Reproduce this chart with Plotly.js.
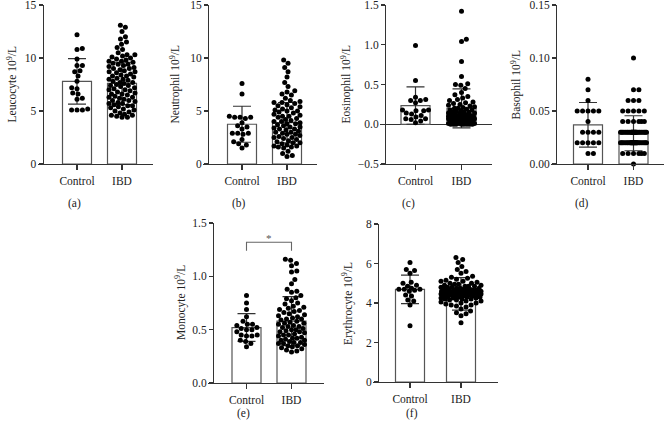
<!DOCTYPE html>
<html><head><meta charset="utf-8">
<script src="https://cdn.plot.ly/plotly-3.0.1.min.js"></script>
<style>html,body{margin:0;padding:0;background:#fff}#chart{width:664px;height:426px}</style>
</head><body><div id="chart"></div>
<script>
// ---------- DATA ----------
const groups = ["Control", "IBD"];
const panelLabels = ["(a)", "(b)", "(c)", "(d)", "(e)", "(f)"];
const yTitles = ["Leucocyte 10<sup>9</sup>/L", "Neutrophil 10<sup>9</sup>/L", "Eosinophil 10<sup>9</sup>/L",
                 "Basophil 10<sup>9</sup>/L", "Monocyte 10<sup>9</sup>/L", "Erythrocyte 10<sup>9</sup>/L"];
const yTickVals = [[0,5,10,15],[0,5,10,15],[-0.5,0,0.5,1,1.5],[0,0.05,0.1,0.15],[0,0.5,1,1.5],[0,2,4,6,8]];

const leucocyteMean = [7.8, 7.6];
const leucocyteSD = [2.15, 2.0];
const leucocyteControl = [12.2,10.9,10.8,9.9,9.3,9.3,8.8,8.7,8.3,7.8,7.2,7.1,6.7,6.6,6.2,6.1,5.2,5.1,5.1,5.1];
const leucocyteIBD = [13.1,12.9,12.5,12.0,11.8,11.5,11.3,11.0,10.8,10.5,10.3,10.3,10.2,10.1,10.0,
  9.9,9.8,9.7,9.7,9.6,9.5,9.4,9.4,9.3,9.2,9.1,9.0,9.0,8.9,8.8,8.7,8.7,8.6,8.5,8.4,8.3,8.3,8.2,8.1,8.0,8.0,
  7.9,7.8,7.7,7.7,7.6,7.5,7.4,7.4,7.3,7.2,7.1,7.0,7.0,6.9,6.8,6.7,6.6,6.6,6.5,6.4,6.3,6.3,6.2,6.1,6.0,6.0,
  5.9,5.8,5.7,5.7,5.6,5.5,5.5,5.4,5.3,5.2,5.1,5.0,4.9,4.8,4.7,4.6,4.6,4.5,4.4,4.4];

const neutrophilMean = [3.75, 3.9];
const neutrophilSD = [1.7, 1.9];
const neutrophilControl = [7.6,6.6,4.4,4.4,4.5,4.4,4.3,3.9,3.6,3.5,3.3,2.9,2.9,2.8,2.9,2.3,1.9,2.1,1.5,1.8];
const neutrophilIBD = [9.8,9.5,9.1,8.7,8.2,7.7,7.3,6.9,6.8,6.6,6.5,6.2,6.0,5.9,5.8,5.8,5.7,5.6,5.5,5.4,5.3,5.2,
  5.1,5.0,5.0,4.9,4.8,4.7,4.6,4.5,4.5,4.4,4.3,4.2,4.1,4.0,4.0,3.9,3.8,3.8,3.7,3.6,3.5,3.5,3.4,3.3,3.3,3.2,
  3.1,3.0,3.0,2.9,2.8,2.8,2.7,2.6,2.5,2.5,2.4,2.3,2.2,2.1,2.0,2.0,1.9,1.8,1.7,1.7,1.6,1.6,1.5,1.2,1.0,0.8,0.7];

const eosinophilMean = [0.235, 0.20];
const eosinophilSD = [0.235, 0.245];
const eosinophilControl = [0.99,0.55,0.34,0.31,0.30,0.30,0.27,0.18,0.17,0.17,0.18,0.14,0.13,0.11,0.09,0.07,0.06,0.07,0.04,0.02];
const eosinophilIBD = [1.42,1.07,1.04,0.79,0.60,0.51,0.50,0.49,0.45,0.40,0.37,0.35,0.33,0.31,0.30,0.28,0.27,
  0.26,0.25,0.24,0.23,0.22,0.21,0.20,0.20,0.19,0.18,0.18,0.17,0.16,0.16,0.15,0.15,0.14,0.14,0.13,0.13,0.12,
  0.12,0.11,0.11,0.10,0.10,0.10,0.10,0.09,0.09,0.09,0.09,0.08,0.08,0.08,0.07,0.07,0.07,0.06,0.06,0.05,0.05,
  0.05,0.04,0.04,0.04,0.03,0.03,0.03,0.02,0.02,0.02,0.01,0.01,0.01,0.00,0.00,0.00,0.00,0.00,0.00,0.00,0.00];

const basophilMean = [0.037, 0.029];
const basophilSD = [0.021, 0.0165];
const basophilControl = [0.08,0.07,0.06,0.05,0.05,0.05,0.05,0.05,0.04,0.03,0.03,0.03,0.03,0.02,0.02,0.02,0.02,0.02,0.01,0.01];
const basophilIBD = [0.10,0.07,0.07,0.06,0.06,0.06,0.05,0.05,0.05,0.05,0.05,0.04,0.04,0.04,0.04,0.04,0.04,
  0.03,0.03,0.03,0.03,0.03,0.03,0.03,0.03,0.03,0.03,0.03,0.03,0.03,0.03,0.03,0.03,0.03,0.03,0.03,0.03,0.03,
  0.03,0.03,0.03,0.03,0.03,0.03,0.03,
  0.02,0.02,0.02,0.02,0.02,0.02,0.02,0.02,0.02,0.02,0.02,0.02,0.02,0.02,0.02,0.02,0.02,0.02,0.02,0.02,0.02,
  0.02,0.02,0.02,0.02,0.02,0.02,0.02,0.02,0.02,
  0.01,0.01,0.01,0.01,0.01,0.01,0.00];

const monocyteMean = [0.52, 0.58];
const monocyteSD = [0.13, 0.23];
const monocyteControl = [0.82,0.75,0.69,0.62,0.58,0.55,0.55,0.54,0.52,0.51,0.50,0.50,0.48,0.45,0.45,0.44,0.44,0.40,0.39,0.37,0.34];
const monocyteIBD = [1.16,1.15,1.12,1.10,1.05,1.04,0.97,0.93,0.88,0.86,0.85,0.82,0.80,0.79,0.77,0.75,0.74,
  0.72,0.71,0.70,0.69,0.68,0.67,0.66,0.65,0.64,0.63,0.62,0.61,0.60,0.60,0.59,0.58,0.57,0.56,0.56,0.55,0.54,
  0.53,0.53,0.52,0.51,0.50,0.50,0.49,0.48,0.48,0.47,0.46,0.45,0.45,0.44,0.43,0.42,0.42,0.41,0.40,0.40,0.39,
  0.38,0.38,0.37,0.37,0.36,0.35,0.35,0.34,0.33,0.32,0.31,0.30,0.29];

const erythrocyteMean = [4.69, 4.46];
const erythrocyteSD = [0.72, 0.82];
const erythrocyteControl = [6.05,5.7,5.65,5.5,5.05,5.0,4.9,4.85,4.75,4.7,4.7,4.7,4.65,4.6,4.4,4.35,4.15,4.1,3.9,2.85];
const erythrocyteIBD = [6.3,6.2,6.05,5.85,5.7,5.6,5.5,5.35,5.3,5.25,5.2,5.15,5.1,5.1,5.05,5.0,5.0,4.95,4.95,
  4.9,4.9,4.85,4.85,4.85,4.8,4.8,4.8,4.75,4.75,4.75,4.7,4.7,4.7,4.7,4.65,4.65,4.65,4.65,4.6,4.6,4.6,4.6,4.6,
  4.55,4.55,4.55,4.55,4.55,4.5,4.5,4.5,4.5,4.5,4.5,4.45,4.45,4.45,4.45,4.45,4.4,4.4,4.4,4.4,4.4,4.35,4.35,
  4.35,4.35,4.3,4.3,4.3,4.3,4.25,4.25,4.25,4.2,4.2,4.2,4.15,4.15,4.1,4.1,4.05,4.0,4.0,3.95,3.9,3.9,3.85,3.8,
  3.7,3.6,3.5,3.45,3.35,3.0];

const sigBracket = {from: 0, to: 1, y: 1.32, drop: 0.08, text: "*"};

// ---------- LAYOUT GEOMETRY (pixels) ----------
const W = 664, H = 426;
const P = [
  {ax:42.5, c0:77,    c1:122,   right:153, top:5,   bot:164, yr:[0,15],     fmt:'',    tx:12,  lx:74,  ly:203, half:[13,13]},
  {ax:208,  c0:242,   c1:287,   right:317, top:5,   bot:164, yr:[0,15],     fmt:'',    tx:175, lx:239, ly:203, half:[13,13]},
  {ax:385,  c0:415.5, c1:461.5, right:492, top:5,   bot:164, yr:[-0.5,1.5], fmt:'.1f', tx:346, lx:408, ly:203, half:[13,13]},
  {ax:556,  c0:588,   c1:633.5, right:664, top:5,   bot:164, yr:[0,0.15],   fmt:'.2f', tx:516, lx:582, ly:203, half:[13,13]},
  {ax:213,  c0:246.5, c1:291.5, right:324, top:223, bot:383, yr:[0,1.5],    fmt:'.1f', tx:180, lx:243, ly:413, half:[13,13]},
  {ax:378,  c0:410,   c1:461,   right:498, top:224, bot:382, yr:[0,8],      fmt:'',    tx:347, lx:412, ly:413, half:[13,20]},
];
const series = [
  [leucocyteControl, leucocyteIBD, leucocyteMean, leucocyteSD],
  [neutrophilControl, neutrophilIBD, neutrophilMean, neutrophilSD],
  [eosinophilControl, eosinophilIBD, eosinophilMean, eosinophilSD],
  [basophilControl, basophilIBD, basophilMean, basophilSD],
  [monocyteControl, monocyteIBD, monocyteMean, monocyteSD],
  [erythrocyteControl, erythrocyteIBD, erythrocyteMean, erythrocyteSD],
];

// deterministic beeswarm: horizontal offsets (px) so dots do not overlap
function swarm(vals, pxU, d, maxHalf) {
  const idx = vals.map((v, i) => i).sort((a, b) => vals[a] - vals[b]);
  const placed = [], off = new Array(vals.length);
  for (const i of idx) {
    const y = vals[i] * pxU;
    const near = placed.filter(p => Math.abs(p.y - y) < d);
    const cands = [0];
    near.forEach(p => { const dx = Math.sqrt(d * d - (p.y - y) ** 2); cands.push(p.x + dx + 0.01, p.x - dx - 0.01); });
    cands.sort((a, b) => Math.abs(a) - Math.abs(b));
    let best = null;
    for (const c of cands) {
      if (Math.abs(c) > maxHalf) continue;
      if (near.every(p => (p.x - c) ** 2 + (p.y - y) ** 2 >= d * d - 1e-6)) { best = c; break; }
    }
    if (best === null) {
      let score = -1;
      for (let k = 0; k <= maxHalf * 2; k++) {
        for (const c of [k / 2, -k / 2]) {
          let m = Infinity;
          near.forEach(p => { m = Math.min(m, Math.hypot(p.x - c, p.y - y)); });
          if (m > score + 0.05) { score = m; best = c; }
        }
      }
    }
    placed.push({x: best, y}); off[i] = best;
  }
  return off;
}

const FONT = '"Liberation Serif", serif';
const AX = '#333', BAR = '#555', TXT = '#222';
const traces = [], layout = {
  width: W, height: H, margin: {l:0, r:0, t:0, b:0}, showlegend: false,
  paper_bgcolor: '#fff', plot_bgcolor: 'rgba(0,0,0,0)',
  font: {family: FONT, size: 11.5, color: TXT},
  annotations: [], shapes: []
};

P.forEach((p, k) => {
  const [ctrl, ibd, mean, sd] = series[k];
  const n = k === 0 ? '' : String(k + 1);
  const xa = 'x' + n, ya = 'y' + n;
  const sc = p.c1 - p.c0;
  const pxU = (p.bot - p.top) / (p.yr[1] - p.yr[0]);
  const x0 = p.ax - 5;
  layout['xaxis' + n] = {
    domain: [x0 / W, Math.min(1, p.right / W)],
    range: [(x0 - p.c0) / sc, (p.right - p.c0) / sc],
    tickvals: [0, 1], ticktext: groups, ticks: 'outside', ticklen: 5, tickwidth: 1.2, tickcolor: AX,
    showline: true, linecolor: AX, linewidth: 1.3, showgrid: false, zeroline: false,
    anchor: ya, fixedrange: true, ticklabelstandoff: 1, ticklabeloverflow: 'allow',
    tickfont: {family: FONT, size: 11.5, color: TXT}
  };
  layout['yaxis' + n] = {
    domain: [1 - p.bot / H, 1 - p.top / H], range: p.yr,
    tickvals: yTickVals[k], tickformat: p.fmt, ticks: 'outside', ticklen: 4, tickwidth: 1.2, tickcolor: AX,
    showline: true, linecolor: AX, linewidth: 1.3, showgrid: false,
    zeroline: p.yr[0] < 0, zerolinecolor: AX, zerolinewidth: 1.3,
    anchor: 'free', position: p.ax / W, fixedrange: true, ticklabeloverflow: 'allow',
    tickfont: {family: FONT, size: 11.5, color: TXT}
  };
  traces.push({
    type: 'bar', x: [0, 1], y: mean, width: 29 / sc, xaxis: xa, yaxis: ya,
    marker: {color: '#fff', line: {color: BAR, width: 1.2}},
    error_y: {type: 'data', array: sd, visible: true, color: '#333', thickness: 1.2, width: 9},
    hoverinfo: 'skip'
  });
  [ctrl, ibd].forEach((vals, g) => {
    const off = swarm(vals, pxU, 5.4, p.half[g]);
    traces.push({
      type: 'scatter', mode: 'markers', xaxis: xa, yaxis: ya,
      x: vals.map((v, i) => g + off[i] / sc), y: vals,
      marker: {color: '#000', size: 5, line: {width: 0}}, cliponaxis: false
    });
  });
  layout.annotations.push({
    xref: 'paper', yref: 'paper', x: p.tx / W, y: 1 - (p.top + p.bot) / 2 / H,
    text: yTitles[k], textangle: -90, showarrow: false, xanchor: 'center', yanchor: 'middle',
    font: {family: FONT, size: 11.5, color: TXT}
  });
  layout.annotations.push({
    xref: 'paper', yref: 'paper', x: p.lx / W, y: 1 - p.ly / H,
    text: panelLabels[k], showarrow: false, xanchor: 'center', yanchor: 'middle',
    font: {family: FONT, size: 11.5, color: TXT}
  });
});

// significance bracket on panel (e)
const b = sigBracket;
layout.shapes.push({
  type: 'path', xref: 'x5', yref: 'y5',
  path: `M ${b.from},${b.y - b.drop} L ${b.from},${b.y} L ${b.to},${b.y} L ${b.to},${b.y - b.drop}`,
  line: {color: '#666', width: 1.1}
});
layout.annotations.push({
  xref: 'x5', yref: 'y5', x: (b.from + b.to) / 2, y: b.y, text: b.text, showarrow: false,
  yanchor: 'bottom', yshift: -4, font: {family: FONT, size: 11, color: '#555'}
});

Plotly.newPlot('chart', traces, layout, {staticPlot: true, displayModeBar: false});
</script>
</body></html>
